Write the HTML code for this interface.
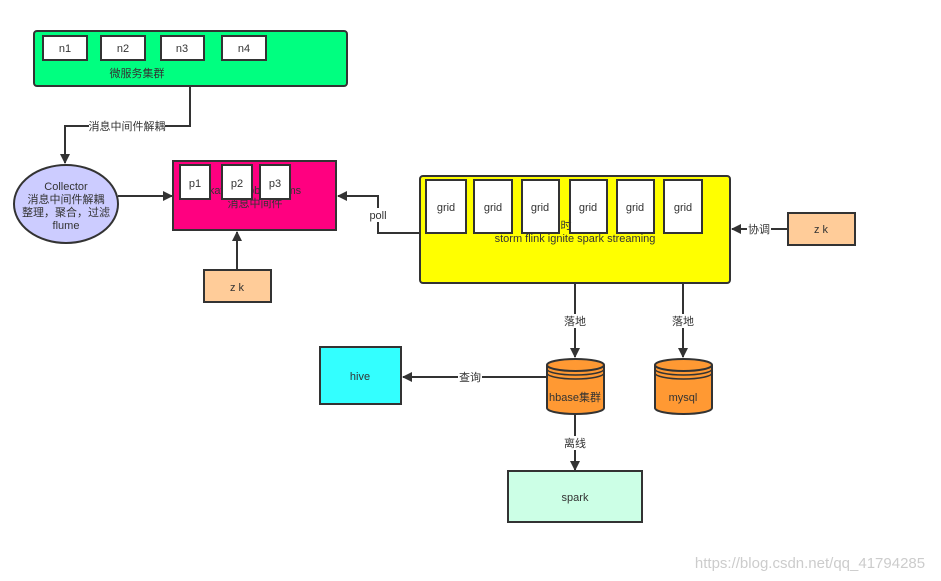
<!DOCTYPE html>
<html><head><meta charset="utf-8"><style>
html,body{margin:0;padding:0;background:#fff;}
svg{display:block;font-family:"Liberation Sans","Noto Sans CJK SC",sans-serif;}
</style></head><body>
<svg width="941" height="581" viewBox="0 0 941 581" xmlns="http://www.w3.org/2000/svg">
<defs>
<marker id="a" markerWidth="10" markerHeight="10" refX="9" refY="5" orient="auto" markerUnits="userSpaceOnUse">
<path d="M0,0 L10,5 L0,10 z" fill="#333"/></marker>
</defs>
<g stroke="#333" stroke-width="2">
<!-- green cluster -->
<rect x="34" y="31" width="313" height="55" rx="3" fill="#00FF80"/>
<rect x="43" y="36" width="44" height="24" fill="#fff"/>
<rect x="101" y="36" width="44" height="24" fill="#fff"/>
<rect x="161" y="36" width="43" height="24" fill="#fff"/>
<rect x="222" y="36" width="44" height="24" fill="#fff"/>
<!-- connector top -->
<polyline points="190,86 190,126 65,126 65,163" fill="none" marker-end="url(#a)"/>
<ellipse cx="66" cy="204" rx="52" ry="39" fill="#CCCCFF"/>
<line x1="118" y1="196" x2="172" y2="196" marker-end="url(#a)"/>
<rect x="173" y="161" width="163" height="69" fill="#FF0080"/>
<rect x="180" y="165" width="30" height="34" fill="#fff"/>
<rect x="222" y="165" width="30" height="34" fill="#fff"/>
<rect x="260" y="165" width="30" height="34" fill="#fff"/>
<rect x="204" y="270" width="67" height="32" fill="#FFCC99"/>
<line x1="237" y1="270" x2="237" y2="232" marker-end="url(#a)"/>
<polyline points="420,233 378,233 378,196 338,196" fill="none" marker-end="url(#a)"/>
<rect x="420" y="176" width="310" height="107" rx="3" fill="#FFFF00"/>
<rect x="426" y="180" width="40" height="53" fill="#fff"/>
<rect x="474" y="180" width="38" height="53" fill="#fff"/>
<rect x="522" y="180" width="37" height="53" fill="#fff"/>
<rect x="570" y="180" width="37" height="53" fill="#fff"/>
<rect x="617" y="180" width="37" height="53" fill="#fff"/>
<rect x="664" y="180" width="38" height="53" fill="#fff"/>
<rect x="788" y="213" width="67" height="32" fill="#FFCC99"/>
<line x1="788" y1="229" x2="732" y2="229" marker-end="url(#a)"/>
<line x1="575" y1="283" x2="575" y2="357" marker-end="url(#a)"/>
<line x1="683" y1="283" x2="683" y2="357" marker-end="url(#a)"/>
<line x1="546" y1="377" x2="403" y2="377" marker-end="url(#a)"/>
<rect x="320" y="347" width="81" height="57" fill="#33FFFF"/>
<line x1="575" y1="414" x2="575" y2="470" marker-end="url(#a)"/>
<rect x="508" y="471" width="134" height="51" fill="#CCFFE6"/>
<!-- cylinders -->
<path d="M547,365 L547,408 A28.5,6 0 0 0 604,408 L604,365" fill="#FF9933"/>
<ellipse cx="575.5" cy="365" rx="28.5" ry="6" fill="#FF9933"/>
<path d="M547,369 A28.5,6 0 0 0 604,369 M547,373 A28.5,6 0 0 0 604,373" fill="none" stroke-width="1.5"/>
<path d="M655,365 L655,408 A28.5,6 0 0 0 712,408 L712,365" fill="#FF9933"/>
<ellipse cx="683.5" cy="365" rx="28.5" ry="6" fill="#FF9933"/>
<path d="M655,369 A28.5,6 0 0 0 712,369 M655,373 A28.5,6 0 0 0 712,373" fill="none" stroke-width="1.5"/>
</g>
<g font-size="11" fill="#333" text-anchor="middle">
<text x="65" y="52">n1</text><text x="123" y="52">n2</text><text x="182" y="52">n3</text><text x="244" y="52">n4</text>
<text x="137" y="77">微服务集群</text>
<rect x="89" y="119" width="76" height="14" fill="#fff"/>
<text x="127" y="130">消息中间件解耦</text>
<text x="66" y="190">Collector</text>
<text x="66" y="203">消息中间件解耦</text>
<text x="66" y="216">整理，聚合，过滤</text>
<text x="66" y="229">flume</text>
<text x="255" y="194">kafka rabbitmq jms</text>
<text x="255" y="207">消息中间件</text>
<rect x="180" y="165" width="30" height="34" fill="#fff" stroke="#333" stroke-width="2"/>
<rect x="222" y="165" width="30" height="34" fill="#fff" stroke="#333" stroke-width="2"/>
<rect x="260" y="165" width="30" height="34" fill="#fff" stroke="#333" stroke-width="2"/>
<text x="195" y="187">p1</text><text x="237" y="187">p2</text><text x="275" y="187">p3</text>
<text x="237" y="291">z k</text>
<rect x="366" y="208" width="24" height="14" fill="#fff"/>
<text x="378" y="219">poll</text>
<text x="446" y="211">grid</text><text x="493" y="211">grid</text><text x="540" y="211">grid</text>
<text x="588" y="211">grid</text><text x="635" y="211">grid</text><text x="683" y="211">grid</text>
<text x="566" y="229">时</text>
<text x="575" y="242">storm  flink ignite spark streaming</text>
<rect x="747" y="222" width="24" height="14" fill="#fff"/>
<text x="759" y="233">协调</text>
<text x="821" y="233">z k</text>
<rect x="563" y="314" width="24" height="14" fill="#fff"/>
<text x="575" y="325">落地</text>
<rect x="671" y="314" width="24" height="14" fill="#fff"/>
<text x="683" y="325">落地</text>
<rect x="458" y="370" width="24" height="14" fill="#fff"/>
<text x="470" y="381">查询</text>
<text x="360" y="380">hive</text>
<text x="575" y="401">hbase集群</text>
<text x="683" y="401">mysql</text>
<rect x="563" y="436" width="24" height="14" fill="#fff"/>
<text x="575" y="447">离线</text>
<text x="575" y="501">spark</text>
</g>
<text x="810" y="568" font-size="15" fill="#ccc" text-anchor="middle">https://blog.csdn.net/qq_41794285</text>
</svg>
</body></html>
